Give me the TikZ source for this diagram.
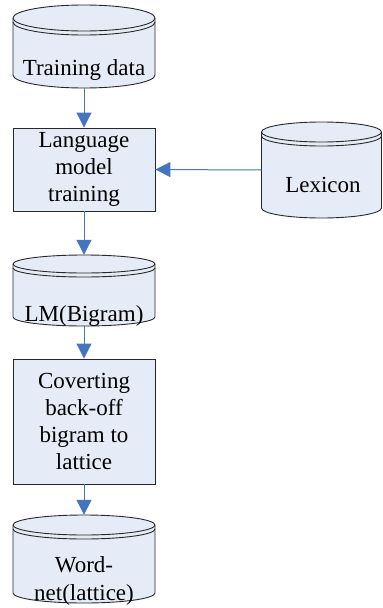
\documentclass[tikz,border=0pt]{standalone}
\usepackage{fontspec}
\setmainfont{Liberation Serif}
\usetikzlibrary{arrows.meta}

\definecolor{shapefill}{RGB}{230,236,247}
\definecolor{shapeline}{RGB}{40,40,40}
\definecolor{flowblue}{RGB}{70,117,192}

% Database drum: #1 name, #2 centre x, #3 top y, #4 bottom y, #5 half width, #6 rim half height
\newcommand\drumshape[6]{%
  \node[inner sep=0pt, minimum width={2*#5}, minimum height={#4-#3}] (#1) at (#2,{(#3+#4)/2}) {};
  \draw[shapestroke, fill=shapefill]
    ({#2-#5},{#3+#6}) -- ({#2-#5},{#4-#6})
    arc[start angle=180, end angle=0, x radius=#5, y radius=#6]
    -- ({#2+#5},{#3+#6})
    arc[start angle=0, end angle=-180, x radius=#5, y radius=#6] -- cycle;
  \draw[shapestroke] ({#2-#5},{#3+#6})
    arc[start angle=180, end angle=0, x radius=#5, y radius=#6];
  \draw[shapestroke] ({#2-#5},{#3+#6+4})
    arc[start angle=180, end angle=0, x radius=#5, y radius=#6];
}

\tikzset{
  shapestroke/.style={draw=shapeline, line width=0.9pt},
  procbox/.style={shapestroke, fill=shapefill, inner sep=0pt, align=center,
    font=\fontsize{23}{27}\selectfont},
  lbl/.style={inner sep=0pt, align=center, font=\fontsize{23}{28}\selectfont},
  flow/.style={draw=flowblue, line width=1pt,
    -{Triangle[width=15pt, length=15pt, fill=flowblue]}},
}

\begin{document}
\begin{tikzpicture}[x=1pt, y=-1pt]
  \useasboundingbox (0,0) rectangle (383,608);

  % data stores
  \drumshape{train}{84}{5}{88}{71}{13}
  \node[lbl, anchor=base] (trainlbl) at (84,75) {Training data};

  \drumshape{lex}{321.5}{122}{218}{60}{10}
  \node[lbl, anchor=base] (lexlbl) at (323,192) {Lexicon};

  \drumshape{lm}{84}{255}{326}{71}{9}
  \node[lbl, anchor=base] (lmlbl) at (84,321) {LM(Bigram)};

  \drumshape{wnet}{84}{515}{603}{71}{10}
  \node[lbl] (wnetlbl) at (84,581) {Word-\\net(lattice)};

  % processing steps
  \node[procbox, minimum width=142pt, minimum height=83pt] (lmtrain)
    at (84,169.5) {Language\\model\\training};
  \node[procbox, minimum width=142pt, minimum height=125pt] (convert)
    at (84,421.5) {Coverting\\back-off\\bigram to\\lattice};

  % flow
  \draw[flow] (train.south) -- (lmtrain.north);
  \draw[flow] (lex.west) -- (lmtrain.east);
  \draw[flow] (lmtrain.south) -- (lm.north);
  \draw[flow] (lm.south) -- (convert.north);
  \draw[flow] (convert.south) -- (wnet.north);
\end{tikzpicture}
\end{document}
